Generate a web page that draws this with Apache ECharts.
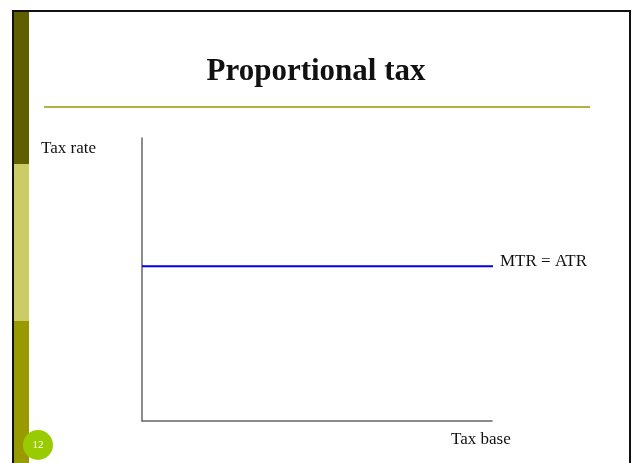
<!DOCTYPE html>
<html>
<head>
<meta charset="utf-8">
<script src="https://cdn.jsdelivr.net/npm/echarts@6/dist/echarts.min.js"></script>
<style>
  html, body { margin: 0; padding: 0; background: #fff; }
  #chartMain { width: 632px; height: 463px; }
</style>
</head>
<body>
<div id="chartMain"></div>
<script>
// data
var taxBase = [0, 10.12];         // x extent of the flat line
var taxRate = [5.47, 5.47];       // MTR = ATR, constant
var seriesName = 'MTR = ATR';
var titleText = 'Proportional tax';
var xName = 'Tax base';
var yName = 'Tax rate';
var slideNo = '12';

var serif = '"Liberation Serif", "DejaVu Serif", serif';

var myChart = echarts.init(document.getElementById('chartMain'));
var option = {
    animation: false,
    backgroundColor: '#fff',
    grid: { left: 142, right: 140, top: 138, bottom: 42 },
    xAxis: {
        type: 'value', min: 0, max: 10,
        axisLine: { show: true, onZero: false, lineStyle: { color: '#666', width: 1.5 } },
        axisTick: { show: false }, axisLabel: { show: false }, splitLine: { show: false }
    },
    yAxis: {
        type: 'value', min: 0, max: 10,
        axisLine: { show: true, onZero: false, lineStyle: { color: '#666', width: 1.5 } },
        axisTick: { show: false }, axisLabel: { show: false }, splitLine: { show: false }
    },
    series: [{
        name: seriesName,
        type: 'line',
        data: taxBase.map(function (x, i) { return [x, taxRate[i]]; }),
        symbol: 'none',
        clip: false,
        lineStyle: { color: '#0000ee', width: 2 },
        endLabel: {
            show: true, formatter: seriesName, distance: 7, offset: [0, -5],
            fontFamily: serif, fontSize: 17, color: '#111'
        }
    }],
    graphic: [
        // slide frame
        { type: 'rect', shape: { x: 13, y: 11, width: 617, height: 460 },
          style: { fill: 'none', stroke: '#111', lineWidth: 2 }, z: 10 },
        // left colour bar
        { type: 'rect', shape: { x: 14, y: 12, width: 15, height: 152 }, style: { fill: '#5f5f00' } },
        { type: 'rect', shape: { x: 14, y: 164, width: 15, height: 157 }, style: { fill: '#cccc66' } },
        { type: 'rect', shape: { x: 14, y: 321, width: 15, height: 150 }, style: { fill: '#999900' } },
        // title and rule
        { type: 'text', x: 316, y: 72,
          style: { text: titleText, font: 'bold 31px ' + serif, fill: '#111', align: 'center', verticalAlign: 'middle' } },
        { type: 'line', shape: { x1: 44, y1: 107, x2: 590, y2: 107 },
          style: { stroke: '#999900', lineWidth: 1.5 } },
        // axis names
        { type: 'text', x: 41, y: 149,
          style: { text: yName, font: '17px ' + serif, fill: '#111', verticalAlign: 'middle' } },
        { type: 'text', x: 451, y: 440,
          style: { text: xName, font: '17px ' + serif, fill: '#111', verticalAlign: 'middle' } },
        // slide number badge
        { type: 'circle', shape: { cx: 38, cy: 445, r: 15 }, style: { fill: '#99cc00' }, z: 11 },
        { type: 'text', x: 38, y: 445, z: 12,
          style: { text: slideNo, font: '11px ' + serif, fill: '#fff', align: 'center', verticalAlign: 'middle' } }
    ]
};
myChart.setOption(option);
</script>
</body>
</html>
